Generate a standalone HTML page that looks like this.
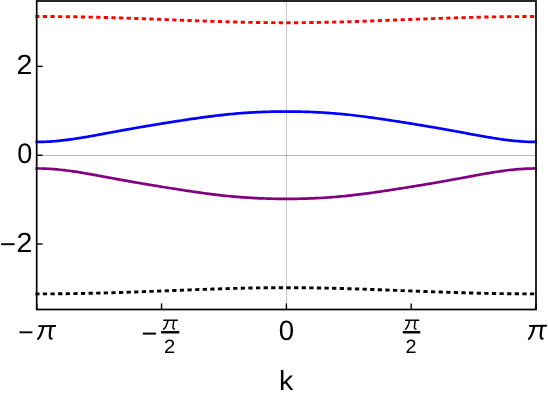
<!DOCTYPE html>
<html><head><meta charset="utf-8">
<style>
html,body{margin:0;padding:0;background:#fff;}
body{width:548px;height:401px;overflow:hidden;}
svg{display:block;will-change:transform;}
text{font-family:"Liberation Sans",sans-serif;fill:#000;text-rendering:geometricPrecision;}
</style></head><body>
<svg width="548" height="401" viewBox="0 0 548 401">
<rect width="548" height="401" fill="#fff"/>
<defs><clipPath id="c"><rect x="35.2" y="1.0" width="501.6" height="308.5"/></clipPath></defs>
<!-- grid -->
<line x1="286.5" y1="1.0" x2="286.5" y2="309.5" stroke="#000" stroke-opacity="0.225" stroke-width="1"/>
<line x1="36.7" y1="155.5" x2="536.0" y2="155.5" stroke="#000" stroke-opacity="0.28" stroke-width="1"/>
<g clip-path="url(#c)" fill="none">
<path d="M35.25,141.93 L37.34,141.94 L39.43,141.92 L41.52,141.88 L43.61,141.83 L45.70,141.75 L47.79,141.65 L49.89,141.53 L51.98,141.39 L54.07,141.24 L56.16,141.06 L58.25,140.87 L60.34,140.66 L62.43,140.43 L64.52,140.19 L66.61,139.93 L68.70,139.66 L70.79,139.38 L72.88,139.08 L74.98,138.77 L77.07,138.45 L79.16,138.12 L81.25,137.78 L83.34,137.43 L85.43,137.07 L87.52,136.71 L89.61,136.34 L91.70,135.97 L93.79,135.59 L95.88,135.21 L97.97,134.83 L100.07,134.44 L102.16,134.05 L104.25,133.66 L106.34,133.28 L108.43,132.89 L110.52,132.50 L112.61,132.11 L114.70,131.73 L116.79,131.34 L118.88,130.96 L120.97,130.58 L123.06,130.20 L125.16,129.82 L127.25,129.45 L129.34,129.08 L131.43,128.71 L133.52,128.34 L135.61,127.98 L137.70,127.62 L139.79,127.26 L141.88,126.90 L143.97,126.55 L146.06,126.20 L148.15,125.85 L150.25,125.50 L152.34,125.15 L154.43,124.81 L156.52,124.46 L158.61,124.12 L160.70,123.78 L162.79,123.44 L164.88,123.11 L166.97,122.77 L169.06,122.44 L171.15,122.11 L173.24,121.78 L175.34,121.45 L177.43,121.12 L179.52,120.80 L181.61,120.47 L183.70,120.15 L185.79,119.83 L187.88,119.52 L189.97,119.21 L192.06,118.90 L194.15,118.59 L196.24,118.29 L198.33,117.99 L200.43,117.70 L202.52,117.41 L204.61,117.12 L206.70,116.84 L208.79,116.57 L210.88,116.30 L212.97,116.04 L215.06,115.78 L217.15,115.53 L219.24,115.29 L221.33,115.05 L223.42,114.82 L225.52,114.60 L227.61,114.39 L229.70,114.18 L231.79,113.98 L233.88,113.79 L235.97,113.61 L238.06,113.43 L240.15,113.27 L242.24,113.11 L244.33,112.96 L246.42,112.81 L248.51,112.68 L250.61,112.55 L252.70,112.43 L254.79,112.32 L256.88,112.22 L258.97,112.12 L261.06,112.03 L263.15,111.95 L265.24,111.88 L267.33,111.81 L269.42,111.75 L271.51,111.70 L273.60,111.65 L275.70,111.61 L277.79,111.58 L279.88,111.56 L281.97,111.54 L284.06,111.53 L286.15,111.53 L288.24,111.53 L290.33,111.54 L292.42,111.55 L294.51,111.58 L296.60,111.61 L298.69,111.64 L300.79,111.69 L302.88,111.74 L304.97,111.79 L307.06,111.86 L309.15,111.93 L311.24,112.01 L313.33,112.10 L315.42,112.19 L317.51,112.29 L319.60,112.40 L321.69,112.52 L323.78,112.65 L325.88,112.78 L327.97,112.92 L330.06,113.07 L332.15,113.23 L334.24,113.39 L336.33,113.57 L338.42,113.75 L340.51,113.94 L342.60,114.13 L344.69,114.34 L346.78,114.55 L348.87,114.77 L350.97,115.00 L353.06,115.23 L355.15,115.47 L357.24,115.72 L359.33,115.98 L361.42,116.24 L363.51,116.50 L365.60,116.78 L367.69,117.06 L369.78,117.34 L371.87,117.63 L373.96,117.92 L376.06,118.22 L378.15,118.52 L380.24,118.82 L382.33,119.13 L384.42,119.44 L386.51,119.76 L388.60,120.08 L390.69,120.40 L392.78,120.72 L394.87,121.04 L396.96,121.37 L399.06,121.70 L401.15,122.03 L403.24,122.36 L405.33,122.69 L407.42,123.03 L409.51,123.36 L411.60,123.70 L413.69,124.04 L415.78,124.38 L417.87,124.72 L419.96,125.07 L422.05,125.41 L424.14,125.76 L426.24,126.11 L428.33,126.46 L430.42,126.82 L432.51,127.17 L434.60,127.53 L436.69,127.89 L438.78,128.25 L440.87,128.62 L442.96,128.99 L445.05,129.36 L447.14,129.73 L449.24,130.11 L451.33,130.49 L453.42,130.87 L455.51,131.25 L457.60,131.63 L459.69,132.02 L461.78,132.41 L463.87,132.79 L465.96,133.18 L468.05,133.57 L470.14,133.96 L472.23,134.35 L474.32,134.73 L476.42,135.12 L478.51,135.50 L480.60,135.88 L482.69,136.25 L484.78,136.62 L486.87,136.99 L488.96,137.34 L491.05,137.69 L493.14,138.04 L495.23,138.37 L497.32,138.69 L499.41,139.00 L501.51,139.31 L503.60,139.59 L505.69,139.87 L507.78,140.13 L509.87,140.38 L511.96,140.61 L514.05,140.82 L516.14,141.02 L518.23,141.20 L520.32,141.36 L522.41,141.50 L524.50,141.62 L526.60,141.73 L528.69,141.81 L530.78,141.87 L532.87,141.91 L534.96,141.93 L537.05,141.94" stroke="#0000ff" stroke-width="2.7"/>
<path d="M35.25,168.47 L37.34,168.46 L39.43,168.48 L41.52,168.52 L43.61,168.57 L45.70,168.65 L47.79,168.75 L49.89,168.87 L51.98,169.01 L54.07,169.16 L56.16,169.34 L58.25,169.53 L60.34,169.74 L62.43,169.97 L64.52,170.21 L66.61,170.47 L68.70,170.74 L70.79,171.02 L72.88,171.32 L74.98,171.63 L77.07,171.95 L79.16,172.28 L81.25,172.62 L83.34,172.97 L85.43,173.33 L87.52,173.69 L89.61,174.06 L91.70,174.43 L93.79,174.81 L95.88,175.19 L97.97,175.57 L100.07,175.96 L102.16,176.35 L104.25,176.74 L106.34,177.12 L108.43,177.51 L110.52,177.90 L112.61,178.29 L114.70,178.67 L116.79,179.06 L118.88,179.44 L120.97,179.82 L123.06,180.20 L125.16,180.58 L127.25,180.95 L129.34,181.32 L131.43,181.69 L133.52,182.06 L135.61,182.42 L137.70,182.78 L139.79,183.14 L141.88,183.50 L143.97,183.85 L146.06,184.20 L148.15,184.55 L150.25,184.90 L152.34,185.25 L154.43,185.59 L156.52,185.94 L158.61,186.28 L160.70,186.62 L162.79,186.96 L164.88,187.29 L166.97,187.63 L169.06,187.96 L171.15,188.29 L173.24,188.62 L175.34,188.95 L177.43,189.28 L179.52,189.60 L181.61,189.93 L183.70,190.25 L185.79,190.57 L187.88,190.88 L189.97,191.19 L192.06,191.50 L194.15,191.81 L196.24,192.11 L198.33,192.41 L200.43,192.70 L202.52,192.99 L204.61,193.28 L206.70,193.56 L208.79,193.83 L210.88,194.10 L212.97,194.36 L215.06,194.62 L217.15,194.87 L219.24,195.11 L221.33,195.35 L223.42,195.58 L225.52,195.80 L227.61,196.01 L229.70,196.22 L231.79,196.42 L233.88,196.61 L235.97,196.79 L238.06,196.97 L240.15,197.13 L242.24,197.29 L244.33,197.44 L246.42,197.59 L248.51,197.72 L250.61,197.85 L252.70,197.97 L254.79,198.08 L256.88,198.18 L258.97,198.28 L261.06,198.37 L263.15,198.45 L265.24,198.52 L267.33,198.59 L269.42,198.65 L271.51,198.70 L273.60,198.75 L275.70,198.79 L277.79,198.82 L279.88,198.84 L281.97,198.86 L284.06,198.87 L286.15,198.87 L288.24,198.87 L290.33,198.86 L292.42,198.85 L294.51,198.82 L296.60,198.79 L298.69,198.76 L300.79,198.71 L302.88,198.66 L304.97,198.61 L307.06,198.54 L309.15,198.47 L311.24,198.39 L313.33,198.30 L315.42,198.21 L317.51,198.11 L319.60,198.00 L321.69,197.88 L323.78,197.75 L325.88,197.62 L327.97,197.48 L330.06,197.33 L332.15,197.17 L334.24,197.01 L336.33,196.83 L338.42,196.65 L340.51,196.46 L342.60,196.27 L344.69,196.06 L346.78,195.85 L348.87,195.63 L350.97,195.40 L353.06,195.17 L355.15,194.93 L357.24,194.68 L359.33,194.42 L361.42,194.16 L363.51,193.90 L365.60,193.62 L367.69,193.34 L369.78,193.06 L371.87,192.77 L373.96,192.48 L376.06,192.18 L378.15,191.88 L380.24,191.58 L382.33,191.27 L384.42,190.96 L386.51,190.64 L388.60,190.32 L390.69,190.00 L392.78,189.68 L394.87,189.36 L396.96,189.03 L399.06,188.70 L401.15,188.37 L403.24,188.04 L405.33,187.71 L407.42,187.37 L409.51,187.04 L411.60,186.70 L413.69,186.36 L415.78,186.02 L417.87,185.68 L419.96,185.33 L422.05,184.99 L424.14,184.64 L426.24,184.29 L428.33,183.94 L430.42,183.58 L432.51,183.23 L434.60,182.87 L436.69,182.51 L438.78,182.15 L440.87,181.78 L442.96,181.41 L445.05,181.04 L447.14,180.67 L449.24,180.29 L451.33,179.91 L453.42,179.53 L455.51,179.15 L457.60,178.77 L459.69,178.38 L461.78,177.99 L463.87,177.61 L465.96,177.22 L468.05,176.83 L470.14,176.44 L472.23,176.05 L474.32,175.67 L476.42,175.28 L478.51,174.90 L480.60,174.52 L482.69,174.15 L484.78,173.78 L486.87,173.41 L488.96,173.06 L491.05,172.71 L493.14,172.36 L495.23,172.03 L497.32,171.71 L499.41,171.40 L501.51,171.09 L503.60,170.81 L505.69,170.53 L507.78,170.27 L509.87,170.02 L511.96,169.79 L514.05,169.58 L516.14,169.38 L518.23,169.20 L520.32,169.04 L522.41,168.90 L524.50,168.78 L526.60,168.67 L528.69,168.59 L530.78,168.53 L532.87,168.49 L534.96,168.47 L537.05,168.46" stroke="#800080" stroke-width="2.7"/>
<path d="M35.25,16.51 L37.34,16.51 L39.43,16.51 L41.52,16.51 L43.61,16.52 L45.70,16.53 L47.79,16.53 L49.89,16.55 L51.98,16.56 L54.07,16.57 L56.16,16.59 L58.25,16.61 L60.34,16.63 L62.43,16.65 L64.52,16.68 L66.61,16.70 L68.70,16.73 L70.79,16.76 L72.88,16.79 L74.98,16.82 L77.07,16.86 L79.16,16.90 L81.25,16.93 L83.34,16.97 L85.43,17.02 L87.52,17.06 L89.61,17.10 L91.70,17.15 L93.79,17.20 L95.88,17.25 L97.97,17.30 L100.07,17.35 L102.16,17.41 L104.25,17.46 L106.34,17.52 L108.43,17.58 L110.52,17.64 L112.61,17.70 L114.70,17.76 L116.79,17.83 L118.88,17.89 L120.97,17.96 L123.06,18.03 L125.16,18.10 L127.25,18.17 L129.34,18.24 L131.43,18.31 L133.52,18.38 L135.61,18.45 L137.70,18.53 L139.79,18.60 L141.88,18.68 L143.97,18.76 L146.06,18.84 L148.15,18.91 L150.25,18.99 L152.34,19.07 L154.43,19.15 L156.52,19.23 L158.61,19.31 L160.70,19.39 L162.79,19.47 L164.88,19.56 L166.97,19.64 L169.06,19.72 L171.15,19.80 L173.24,19.88 L175.34,19.96 L177.43,20.05 L179.52,20.13 L181.61,20.21 L183.70,20.29 L185.79,20.37 L187.88,20.45 L189.97,20.53 L192.06,20.61 L194.15,20.69 L196.24,20.77 L198.33,20.84 L200.43,20.92 L202.52,20.99 L204.61,21.07 L206.70,21.14 L208.79,21.22 L210.88,21.29 L212.97,21.36 L215.06,21.43 L217.15,21.50 L219.24,21.56 L221.33,21.63 L223.42,21.69 L225.52,21.75 L227.61,21.81 L229.70,21.87 L231.79,21.93 L233.88,21.99 L235.97,22.04 L238.06,22.09 L240.15,22.15 L242.24,22.19 L244.33,22.24 L246.42,22.29 L248.51,22.33 L250.61,22.37 L252.70,22.41 L254.79,22.44 L256.88,22.48 L258.97,22.51 L261.06,22.54 L263.15,22.57 L265.24,22.59 L267.33,22.62 L269.42,22.64 L271.51,22.66 L273.60,22.67 L275.70,22.69 L277.79,22.70 L279.88,22.71 L281.97,22.71 L284.06,22.72 L286.15,22.72 L288.24,22.72 L290.33,22.71 L292.42,22.71 L294.51,22.70 L296.60,22.69 L298.69,22.68 L300.79,22.66 L302.88,22.64 L304.97,22.62 L307.06,22.60 L309.15,22.57 L311.24,22.55 L313.33,22.52 L315.42,22.49 L317.51,22.45 L319.60,22.42 L321.69,22.38 L323.78,22.34 L325.88,22.30 L327.97,22.25 L330.06,22.21 L332.15,22.16 L334.24,22.11 L336.33,22.05 L338.42,22.00 L340.51,21.95 L342.60,21.89 L344.69,21.83 L346.78,21.77 L348.87,21.71 L350.97,21.64 L353.06,21.58 L355.15,21.51 L357.24,21.44 L359.33,21.37 L361.42,21.30 L363.51,21.23 L365.60,21.16 L367.69,21.09 L369.78,21.01 L371.87,20.94 L373.96,20.86 L376.06,20.78 L378.15,20.71 L380.24,20.63 L382.33,20.55 L384.42,20.47 L386.51,20.39 L388.60,20.31 L390.69,20.23 L392.78,20.15 L394.87,20.07 L396.96,19.98 L399.06,19.90 L401.15,19.82 L403.24,19.74 L405.33,19.66 L407.42,19.58 L409.51,19.49 L411.60,19.41 L413.69,19.33 L415.78,19.25 L417.87,19.17 L419.96,19.09 L422.05,19.01 L424.14,18.93 L426.24,18.85 L428.33,18.78 L430.42,18.70 L432.51,18.62 L434.60,18.55 L436.69,18.47 L438.78,18.40 L440.87,18.33 L442.96,18.25 L445.05,18.18 L447.14,18.11 L449.24,18.04 L451.33,17.98 L453.42,17.91 L455.51,17.84 L457.60,17.78 L459.69,17.72 L461.78,17.65 L463.87,17.59 L465.96,17.54 L468.05,17.48 L470.14,17.42 L472.23,17.37 L474.32,17.31 L476.42,17.26 L478.51,17.21 L480.60,17.16 L482.69,17.12 L484.78,17.07 L486.87,17.03 L488.96,16.98 L491.05,16.94 L493.14,16.90 L495.23,16.87 L497.32,16.83 L499.41,16.80 L501.51,16.77 L503.60,16.74 L505.69,16.71 L507.78,16.68 L509.87,16.66 L511.96,16.63 L514.05,16.61 L516.14,16.59 L518.23,16.58 L520.32,16.56 L522.41,16.55 L524.50,16.54 L526.60,16.53 L528.69,16.52 L530.78,16.51 L532.87,16.51 L534.96,16.51 L537.05,16.51" stroke="#ff0000" stroke-width="2.9" stroke-dasharray="4.26 3.354"/>
<path d="M35.25,293.89 L37.34,293.89 L39.43,293.89 L41.52,293.89 L43.61,293.88 L45.70,293.87 L47.79,293.87 L49.89,293.85 L51.98,293.84 L54.07,293.83 L56.16,293.81 L58.25,293.79 L60.34,293.77 L62.43,293.75 L64.52,293.72 L66.61,293.70 L68.70,293.67 L70.79,293.64 L72.88,293.61 L74.98,293.58 L77.07,293.54 L79.16,293.50 L81.25,293.47 L83.34,293.43 L85.43,293.38 L87.52,293.34 L89.61,293.30 L91.70,293.25 L93.79,293.20 L95.88,293.15 L97.97,293.10 L100.07,293.05 L102.16,292.99 L104.25,292.94 L106.34,292.88 L108.43,292.82 L110.52,292.76 L112.61,292.70 L114.70,292.64 L116.79,292.57 L118.88,292.51 L120.97,292.44 L123.06,292.37 L125.16,292.30 L127.25,292.23 L129.34,292.16 L131.43,292.09 L133.52,292.02 L135.61,291.95 L137.70,291.87 L139.79,291.80 L141.88,291.72 L143.97,291.64 L146.06,291.56 L148.15,291.49 L150.25,291.41 L152.34,291.33 L154.43,291.25 L156.52,291.17 L158.61,291.09 L160.70,291.01 L162.79,290.93 L164.88,290.84 L166.97,290.76 L169.06,290.68 L171.15,290.60 L173.24,290.52 L175.34,290.44 L177.43,290.35 L179.52,290.27 L181.61,290.19 L183.70,290.11 L185.79,290.03 L187.88,289.95 L189.97,289.87 L192.06,289.79 L194.15,289.71 L196.24,289.63 L198.33,289.56 L200.43,289.48 L202.52,289.41 L204.61,289.33 L206.70,289.26 L208.79,289.18 L210.88,289.11 L212.97,289.04 L215.06,288.97 L217.15,288.90 L219.24,288.84 L221.33,288.77 L223.42,288.71 L225.52,288.65 L227.61,288.59 L229.70,288.53 L231.79,288.47 L233.88,288.41 L235.97,288.36 L238.06,288.31 L240.15,288.25 L242.24,288.21 L244.33,288.16 L246.42,288.11 L248.51,288.07 L250.61,288.03 L252.70,287.99 L254.79,287.96 L256.88,287.92 L258.97,287.89 L261.06,287.86 L263.15,287.83 L265.24,287.81 L267.33,287.78 L269.42,287.76 L271.51,287.74 L273.60,287.73 L275.70,287.71 L277.79,287.70 L279.88,287.69 L281.97,287.69 L284.06,287.68 L286.15,287.68 L288.24,287.68 L290.33,287.69 L292.42,287.69 L294.51,287.70 L296.60,287.71 L298.69,287.72 L300.79,287.74 L302.88,287.76 L304.97,287.78 L307.06,287.80 L309.15,287.83 L311.24,287.85 L313.33,287.88 L315.42,287.91 L317.51,287.95 L319.60,287.98 L321.69,288.02 L323.78,288.06 L325.88,288.10 L327.97,288.15 L330.06,288.19 L332.15,288.24 L334.24,288.29 L336.33,288.35 L338.42,288.40 L340.51,288.45 L342.60,288.51 L344.69,288.57 L346.78,288.63 L348.87,288.69 L350.97,288.76 L353.06,288.82 L355.15,288.89 L357.24,288.96 L359.33,289.03 L361.42,289.10 L363.51,289.17 L365.60,289.24 L367.69,289.31 L369.78,289.39 L371.87,289.46 L373.96,289.54 L376.06,289.62 L378.15,289.69 L380.24,289.77 L382.33,289.85 L384.42,289.93 L386.51,290.01 L388.60,290.09 L390.69,290.17 L392.78,290.25 L394.87,290.33 L396.96,290.42 L399.06,290.50 L401.15,290.58 L403.24,290.66 L405.33,290.74 L407.42,290.82 L409.51,290.91 L411.60,290.99 L413.69,291.07 L415.78,291.15 L417.87,291.23 L419.96,291.31 L422.05,291.39 L424.14,291.47 L426.24,291.55 L428.33,291.62 L430.42,291.70 L432.51,291.78 L434.60,291.85 L436.69,291.93 L438.78,292.00 L440.87,292.07 L442.96,292.15 L445.05,292.22 L447.14,292.29 L449.24,292.36 L451.33,292.42 L453.42,292.49 L455.51,292.56 L457.60,292.62 L459.69,292.68 L461.78,292.75 L463.87,292.81 L465.96,292.86 L468.05,292.92 L470.14,292.98 L472.23,293.03 L474.32,293.09 L476.42,293.14 L478.51,293.19 L480.60,293.24 L482.69,293.28 L484.78,293.33 L486.87,293.37 L488.96,293.42 L491.05,293.46 L493.14,293.50 L495.23,293.53 L497.32,293.57 L499.41,293.60 L501.51,293.63 L503.60,293.66 L505.69,293.69 L507.78,293.72 L509.87,293.74 L511.96,293.77 L514.05,293.79 L516.14,293.81 L518.23,293.82 L520.32,293.84 L522.41,293.85 L524.50,293.86 L526.60,293.87 L528.69,293.88 L530.78,293.89 L532.87,293.89 L534.96,293.89 L537.05,293.89" stroke="#000000" stroke-width="2.9" stroke-dasharray="4.26 3.354"/>
</g>
<!-- frame -->
<rect x="36.7" y="1.0" width="499.3" height="308.5" fill="none" stroke="#000" stroke-width="1.7"/>
<!-- ticks -->
<g stroke="#000" stroke-width="1.4">
<line x1="36.7" y1="66.35" x2="42.6" y2="66.35"/>
<line x1="36.7" y1="155.3" x2="42.6" y2="155.3"/>
<line x1="36.7" y1="244.0" x2="42.6" y2="244.0"/>
<line x1="36.7" y1="309.5" x2="36.7" y2="303.4"/>
<line x1="161.55" y1="309.5" x2="161.55" y2="303.4"/>
<line x1="286.4" y1="309.5" x2="286.4" y2="303.4"/>
<line x1="411.2" y1="309.5" x2="411.2" y2="303.4"/>
<line x1="536.0" y1="309.5" x2="536.0" y2="303.4"/>
</g>
<!-- labels -->
<text transform="matrix(1.4267 0 0 1.3857 16.565 73.850)" font-size="20.0">2</text>
<text transform="matrix(1.3494 0 0 1.4195 17.145 163.322)" font-size="20.0">0</text>
<text transform="matrix(1.4267 0 0 1.3821 16.565 251.600)" font-size="20.0">2</text>
<rect x="1.1" y="243.25" width="13.50" height="1.9" fill="#000"/>
<text transform="matrix(1.3808 0 0 1.4054 278.720 339.625)" font-size="20.0">0</text>
<rect x="19.5" y="331.35" width="12.90" height="1.9" fill="#000"/>
<path d="M38.30,326.14 L55.90,326.04" stroke="#000" stroke-width="1.94" fill="none"/><path d="M43.30,326.69 C42.30,330.86 40.90,336.62 38.00,338.86" stroke="#000" stroke-width="2.19" fill="none" stroke-linecap="round"/><path d="M50.80,326.69 C50.30,329.87 49.70,333.84 49.75,336.32 C49.80,338.21 50.50,338.81 51.60,338.56" stroke="#000" stroke-width="2.19" fill="none" stroke-linecap="round"/>
<path d="M529.21,325.96 L546.90,325.86" stroke="#000" stroke-width="1.98" fill="none"/><path d="M534.23,326.52 C533.23,330.78 531.82,336.66 528.91,338.94" stroke="#000" stroke-width="2.22" fill="none" stroke-linecap="round"/><path d="M541.77,326.52 C541.27,329.76 540.67,333.82 540.72,336.35 C540.77,338.28 541.47,338.89 542.58,338.63" stroke="#000" stroke-width="2.22" fill="none" stroke-linecap="round"/>
<text transform="matrix(1.4282 0 0 1.3801 278.975 389.700)" font-size="20.0">k</text>
<rect x="142.8" y="332.60" width="13.10" height="2.0" fill="#000"/>
<path d="M163.30,320.33 L177.90,320.26" stroke="#000" stroke-width="1.50" fill="none"/><path d="M167.90,320.71 C167.11,323.64 166.00,327.67 163.69,329.24" stroke="#000" stroke-width="1.49" fill="none" stroke-linecap="round"/><path d="M173.85,320.71 C173.46,322.94 172.98,325.72 173.02,327.46 C173.06,328.79 173.61,329.20 174.49,329.03" stroke="#000" stroke-width="1.49" fill="none" stroke-linecap="round"/>
<text transform="matrix(1.0097 0 0 0.9668 163.884 353.000)" font-size="20.0">2</text>
<path d="M405.08,320.33 L419.20,320.26" stroke="#000" stroke-width="1.50" fill="none"/><path d="M409.53,320.71 C408.77,323.64 407.69,327.67 405.47,329.24" stroke="#000" stroke-width="1.46" fill="none" stroke-linecap="round"/><path d="M415.29,320.71 C414.90,322.94 414.44,325.72 414.48,327.46 C414.52,328.79 415.06,329.20 415.90,329.03" stroke="#000" stroke-width="1.46" fill="none" stroke-linecap="round"/>
<text transform="matrix(0.9877 0 0 0.9668 405.606 353.000)" font-size="20.0">2</text>
<rect x="161.1" y="331.05" width="18.2" height="2.4" fill="#000"/>
<rect x="402.8" y="331.05" width="17.5" height="2.4" fill="#000"/>
</svg>
</body></html>
